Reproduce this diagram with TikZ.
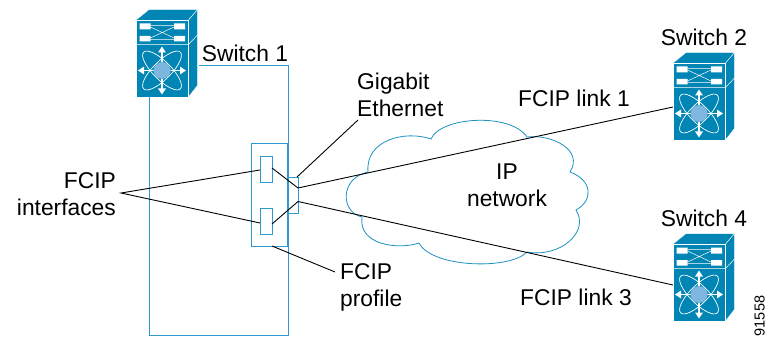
\documentclass[tikz,border=0pt]{standalone}
\usepackage{fontspec}
\setmainfont{Liberation Sans}
\usetikzlibrary{arrows.meta}
\definecolor{swblue}{RGB}{0,133,181}
\definecolor{wire}{RGB}{45,155,205}
\definecolor{cloudblue}{RGB}{30,145,195}
\definecolor{hub}{RGB}{125,182,222}
\tikzset{
  x=1pt,y=-1pt,
  lbl/.style={font=\fontsize{22.8}{27}\selectfont,inner sep=0pt,align=center},
  wirebox/.style={draw=wire,line width=1pt},
  blk/.style={draw=black,line width=.9pt},
  whiteline/.style={draw=white,line width=0.5pt},
  starar/.style={draw=white,line width=1.5pt,-{Triangle[length=6pt,width=7.5pt]}},
  switchicon/.pic={
    \fill[swblue] (0,0)--(13,-10.5)--(61.5,-10.5)--(61.5,65.5)--(52.5,77)--(0,77)--cycle;
    \draw[whiteline] (0,0)--(52.5,0)--(52.5,77)--(0,77)--cycle;
    \draw[whiteline] (0,24.5)--(52.5,24.5)--(61.5,15);
    \draw[whiteline] (0,0)--(13,-10.5)--(61.5,-10.5)--(61.5,65.5)--(52.5,77);
    \draw[whiteline] (52.5,0)--(61.5,-10.5);
    \fill[white] (3.5,3.5) rectangle (14.5,9.5) (38,3.5) rectangle (49,9.5)
                 (3.5,16) rectangle (14.5,21.5) (38,16) rectangle (49,21.5);
    \draw[white,line width=.5pt] (14.5,7)--(38,18) (14.5,18)--(38,7) (14.5,5.5)--(38,5.5) (14.5,19.5)--(38,19.5);
    \begin{scope}[shift={(26,50.5)}]
      \foreach \a in {45,-45}{
        \draw[white,line width=.7pt,rotate=\a] (0,0) ellipse [x radius=26pt,y radius=9pt];}
      \foreach \a in {0,90,180,270}{\draw[starar] (0,0)--(\a:24pt);}
      \fill[hub] (0,0) circle [radius=8.5pt];
    \end{scope}
  }
}
\begin{document}
\begin{tikzpicture}
\useasboundingbox (0,0) rectangle (767,339);
% cloud
\draw[draw=cloudblue,line width=.8pt,fill=white]
 (431,139) .. controls (440,117) and (510,112) .. (527,137)
 .. controls (552,134) and (584,150) .. (570,172)
 .. controls (592,180) and (594,200) .. (576,210)
 .. controls (590,232) and (560,258) .. (527,252)
 .. controls (510,270) and (432,268) .. (419,243)
 .. controls (398,250) and (358,245) .. (362,217)
 .. controls (340,212) and (340,178) .. (368,172)
 .. controls (365,140) and (405,130) .. (431,139) -- cycle;
% switches
\pic at (136,20) {switchicon};
\pic at (673,63) {switchicon};
\pic at (673,244) {switchicon};
\node[minimum size=0pt,inner sep=0pt] (s1) at (149,97) {};
\node[minimum size=0pt,inner sep=0pt] (s1b) at (199,66) {};
\node[minimum size=0pt,inner sep=0pt] (s2) at (673,107) {};
\node[minimum size=0pt,inner sep=0pt] (s4) at (673,285) {};
% chassis outline
\coordinate (c1) at (149,335); \coordinate (c2) at (288,335); \coordinate (c3) at (288,66);
\draw[wirebox] (s1)--(c1)--(c2)--(c3)--(s1b);
% profile, interfaces, port
\node[wirebox,fill=white,minimum width=36pt,minimum height=103pt,inner sep=0pt,anchor=north west] (prof) at (251,143) {};
\node[wirebox,fill=white,minimum width=12pt,minimum height=26pt,inner sep=0pt,anchor=north west] (if1) at (260,156) {};
\node[wirebox,fill=white,minimum width=12pt,minimum height=26pt,inner sep=0pt,anchor=north west] (if2) at (260,208) {};
\draw[wirebox] (288,143)--(288,246);
\draw[wirebox] (287,177) rectangle (298,213);
\coordinate (p1) at (298,188); \coordinate (p2) at (298,201.5);
\coordinate (p0) at (297,177);
\coordinate (i1) at (272,168); \coordinate (i2) at (272,224);
\draw[blk] (i1)--(p1) (i2)--(p2);
\draw[blk] (p1)--(s2) (p2)--(s4);
% labels
\node[lbl] (sw1) at (245,53) {Switch 1};
\node[lbl] (sw2) at (704,37) {Switch 2};
\node[lbl] (sw4) at (704,218) {Switch 4};
\node[lbl,anchor=west,align=left] (ge) at (357,95) {Gigabit\\Ethernet};
\node[lbl,anchor=west] (l1) at (518,98) {FCIP link 1};
\node[lbl] (ip) at (507,185.5) {IP\\network};
\node[lbl,anchor=east,align=right] (fi) at (116,194) {FCIP\\interfaces};
\node[lbl,anchor=west,align=left] (fp) at (340,287) {FCIP\\profile};
\node[lbl,anchor=west] (l3) at (520,297) {FCIP link 3};
\node[font=\fontsize{14.5}{16}\selectfont,inner sep=0pt,rotate=90] (num) at (759.5,316) {91558};
\coordinate (fa) at (121,193);
\coordinate (ge0) at (358,120); \coordinate (fp0) at (335,272); \coordinate (pb) at (272,246);
\draw[blk] (260,170)--(fa)--(260,223);
\draw[blk] (p0)--(ge0) (pb)--(fp0);
\end{tikzpicture}
\end{document}
